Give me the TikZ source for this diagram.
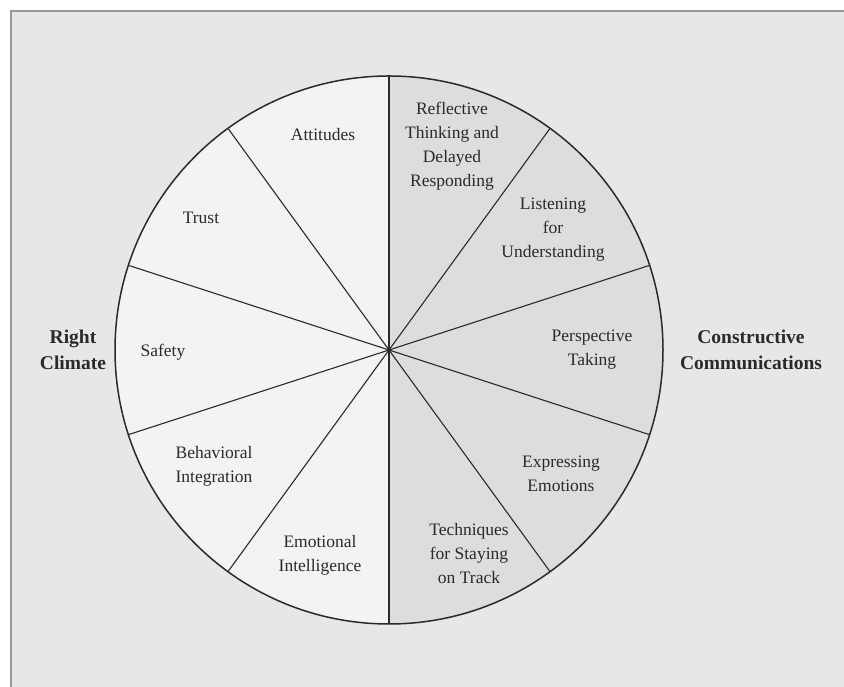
\documentclass[tikz,border=0pt]{standalone}
\usepackage{fontspec}
\setmainfont{Liberation Serif}
\definecolor{bg}{HTML}{E6E7E9}
\definecolor{leftfill}{HTML}{F3F3F3}
\definecolor{rightfill}{HTML}{DDDDDF}
\definecolor{ink}{HTML}{2A2A2A}
\begin{document}
\begin{tikzpicture}[x=1pt,y=1pt,
  lbl/.style={align=center, font=\fontsize{17.5}{24}\selectfont, text=ink, inner sep=0pt},
  side/.style={align=center, font=\bfseries\fontsize{19.5}{26}\selectfont, text=ink, inner sep=0pt},
  spoke/.style={draw=ink, line width=1.1pt},
  divider/.style={draw=ink, line width=1.9pt},
  rim/.style={draw=ink, line width=1.5pt}]
\useasboundingbox (0,0) rectangle (844,687);
\fill[white] (0,0) rectangle (844,687);
\fill[bg] (11,0) rectangle (844,676);
\draw[draw=gray!80, line width=1.3pt] (11,0) -- (11,676) -- (844,676);
\coordinate (c) at (389,337);
\fill[leftfill] (c) -- ++(90:274) arc[start angle=90, end angle=270, radius=274] -- cycle;
\fill[rightfill] (c) -- ++(-90:274) arc[start angle=-90, end angle=90, radius=274] -- cycle;
\foreach \a in {18,54,126,162,198,234,306,342} \draw[spoke] (c) -- ++(\a:274);
\draw[divider] (c) ++(0,274) coordinate (top) -- ++(0,-548) coordinate (bot);
\draw[rim] (c) circle[radius=274];
\node[lbl] (att) at (323,552) {Attitudes};
\node[lbl] (tru) at (201,469) {Trust};
\node[lbl] (saf) at (163,335) {Safety};
\node[lbl] (beh) at (214,221) {Behavioral\\Integration};
\node[lbl] (emo) at (320,132) {Emotional\\Intelligence};
\node[lbl] (tec) at (469,133) {Techniques\\for Staying\\on Track};
\node[lbl] (exp) at (561,213) {Expressing\\Emotions};
\node[lbl] (per) at (592,337) {Perspective\\Taking};
\node[lbl] (lis) at (553,457) {Listening\\for\\Understanding};
\node[lbl] (ref) at (452,541) {Reflective\\Thinking and\\Delayed\\Responding};
\node[side] (rc) at (73,337) {Right\\Climate};
\node[side] (cc) at (751,337) {Constructive\\Communications};
\end{tikzpicture}
\end{document}
